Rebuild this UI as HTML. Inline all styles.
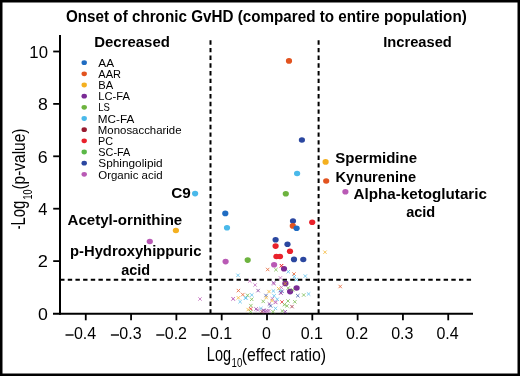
<!DOCTYPE html><html><head><meta charset="utf-8"><style>html,body{margin:0;padding:0;background:#fff;overflow:hidden}svg{display:block;will-change:transform}</style></head><body>
<svg width="520" height="376" viewBox="0 0 520 376" font-family='"Liberation Sans", sans-serif'>
<rect x="0" y="0" width="520" height="376" fill="#000"/>
<rect x="2.5" y="2.5" width="515" height="371" fill="#fff"/>
<text x="65.99" y="21.70" font-size="15.80" font-weight="bold" textLength="400.78" lengthAdjust="spacingAndGlyphs">Onset of chronic GvHD (compared to entire population)</text>
<text x="94.23" y="47.40" font-size="15.00" font-weight="bold" textLength="75.63" lengthAdjust="spacingAndGlyphs">Decreased</text>
<text x="383.25" y="47.40" font-size="15.00" font-weight="bold" textLength="68.60" lengthAdjust="spacingAndGlyphs">Increased</text>
<g stroke="#000" stroke-width="2" fill="none">
<line x1="210.5" y1="40.25" x2="210.5" y2="313" stroke-dasharray="4.4 3.285"/>
<line x1="318.6" y1="40.25" x2="318.6" y2="313" stroke-dasharray="4.4 3.285"/>
<line x1="60.1" y1="279.8" x2="471.1" y2="279.8" stroke-dasharray="4.4 3.271"/>
</g>
<g stroke="#000" stroke-width="2" fill="none">
<line x1="60" y1="35.1" x2="60" y2="314.7"/>
<line x1="53" y1="313.7" x2="473" y2="313.7" stroke-width="2"/>
<line x1="53.2" y1="51.50" x2="60" y2="51.50" stroke-width="1.8"/>
<line x1="53.2" y1="103.90" x2="60" y2="103.90" stroke-width="1.8"/>
<line x1="53.2" y1="156.30" x2="60" y2="156.30" stroke-width="1.8"/>
<line x1="53.2" y1="208.70" x2="60" y2="208.70" stroke-width="1.8"/>
<line x1="53.2" y1="261.10" x2="60" y2="261.10" stroke-width="1.8"/>
<line x1="85.76" y1="313.6" x2="85.76" y2="320.3" stroke-width="1.8"/>
<line x1="131.07" y1="313.6" x2="131.07" y2="320.3" stroke-width="1.8"/>
<line x1="176.38" y1="313.6" x2="176.38" y2="320.3" stroke-width="1.8"/>
<line x1="221.69" y1="313.6" x2="221.69" y2="320.3" stroke-width="1.8"/>
<line x1="267.00" y1="313.6" x2="267.00" y2="320.3" stroke-width="1.8"/>
<line x1="312.31" y1="313.6" x2="312.31" y2="320.3" stroke-width="1.8"/>
<line x1="357.62" y1="313.6" x2="357.62" y2="320.3" stroke-width="1.8"/>
<line x1="402.93" y1="313.6" x2="402.93" y2="320.3" stroke-width="1.8"/>
<line x1="448.24" y1="313.6" x2="448.24" y2="320.3" stroke-width="1.8"/>
</g>
<text x="29.35" y="57.70" font-size="17.20" textLength="18.58" lengthAdjust="spacingAndGlyphs">10</text>
<text x="37.91" y="110.10" font-size="17.20" textLength="9.82" lengthAdjust="spacingAndGlyphs">8</text>
<text x="37.81" y="162.50" font-size="17.20" textLength="9.93" lengthAdjust="spacingAndGlyphs">6</text>
<text x="38.37" y="214.90" font-size="17.20" textLength="9.14" lengthAdjust="spacingAndGlyphs">4</text>
<text x="37.79" y="267.30" font-size="17.20" textLength="10.15" lengthAdjust="spacingAndGlyphs">2</text>
<text x="37.99" y="319.70" font-size="17.20" textLength="9.85" lengthAdjust="spacingAndGlyphs">0</text>
<text x="73.96" y="339.10" font-size="17.20" textLength="22.24" lengthAdjust="spacingAndGlyphs">0.4</text>
<rect x="65.50" y="334.3" width="8.1" height="1.4" fill="#000"/>
<text x="119.35" y="339.10" font-size="17.20" textLength="22.24" lengthAdjust="spacingAndGlyphs">0.3</text>
<rect x="110.89" y="334.3" width="8.1" height="1.4" fill="#000"/>
<text x="164.74" y="339.10" font-size="17.20" textLength="22.24" lengthAdjust="spacingAndGlyphs">0.2</text>
<rect x="156.28" y="334.3" width="8.1" height="1.4" fill="#000"/>
<text x="210.01" y="339.10" font-size="17.20" textLength="22.24" lengthAdjust="spacingAndGlyphs">0.1</text>
<rect x="201.55" y="334.3" width="8.1" height="1.4" fill="#000"/>
<text x="261.92" y="339.10" font-size="17.20" textLength="8.90" lengthAdjust="spacingAndGlyphs">0</text>
<text x="300.63" y="339.10" font-size="17.20" textLength="22.24" lengthAdjust="spacingAndGlyphs">0.1</text>
<text x="345.98" y="339.10" font-size="17.20" textLength="22.24" lengthAdjust="spacingAndGlyphs">0.2</text>
<text x="391.21" y="339.10" font-size="17.20" textLength="22.24" lengthAdjust="spacingAndGlyphs">0.3</text>
<text x="436.44" y="339.10" font-size="17.20" textLength="22.24" lengthAdjust="spacingAndGlyphs">0.4</text>
<text x="206.84" y="360.50" font-size="19.30" textLength="24.15" lengthAdjust="spacingAndGlyphs">Log</text>
<text x="231.57" y="367.10" font-size="12.40" textLength="10.79" lengthAdjust="spacingAndGlyphs">10</text>
<text x="241.65" y="360.50" font-size="18.50" textLength="84.44" lengthAdjust="spacingAndGlyphs">(effect ratio)</text>
<g transform="translate(25.1,229.4) rotate(-90)">
<text x="0.20" y="0.00" font-size="19.30" textLength="3.67" lengthAdjust="spacingAndGlyphs">-</text>
<text x="3.91" y="0.00" font-size="19.30" textLength="24.92" lengthAdjust="spacingAndGlyphs">Log</text>
<text x="29.82" y="6.40" font-size="12.40" textLength="10.01" lengthAdjust="spacingAndGlyphs">10</text>
<text x="39.87" y="0.00" font-size="18.50" textLength="60.97" lengthAdjust="spacingAndGlyphs">(p-value)</text>
</g>
<ellipse cx="84.2" cy="62.70" rx="2.7" ry="2.4" fill="#1f6cc2"/>
<text x="98.30" y="66.60" font-size="10.60" textLength="15.75" lengthAdjust="spacingAndGlyphs">AA</text>
<ellipse cx="84.2" cy="73.86" rx="2.7" ry="2.4" fill="#e2531f"/>
<text x="98.30" y="77.80" font-size="10.60" textLength="22.71" lengthAdjust="spacingAndGlyphs">AAR</text>
<ellipse cx="84.2" cy="85.02" rx="2.7" ry="2.4" fill="#f4b020"/>
<text x="98.20" y="89.00" font-size="10.60" textLength="14.94" lengthAdjust="spacingAndGlyphs">BA</text>
<ellipse cx="84.2" cy="96.18" rx="2.7" ry="2.4" fill="#7a2b95"/>
<text x="98.21" y="100.20" font-size="10.60" textLength="31.64" lengthAdjust="spacingAndGlyphs">LC-FA</text>
<ellipse cx="84.2" cy="107.34" rx="2.7" ry="2.4" fill="#6db33f"/>
<text x="98.34" y="111.40" font-size="10.60" textLength="11.62" lengthAdjust="spacingAndGlyphs">LS</text>
<ellipse cx="84.2" cy="118.50" rx="2.7" ry="2.4" fill="#4ab9ea"/>
<text x="97.86" y="122.60" font-size="10.60" textLength="36.45" lengthAdjust="spacingAndGlyphs">MC-FA</text>
<ellipse cx="84.2" cy="129.66" rx="2.7" ry="2.4" fill="#981b30"/>
<text x="97.89" y="133.80" font-size="10.60" textLength="83.66" lengthAdjust="spacingAndGlyphs">Monosaccharide</text>
<ellipse cx="84.2" cy="140.82" rx="2.7" ry="2.4" fill="#e9212b"/>
<text x="97.94" y="145.00" font-size="10.60" textLength="14.99" lengthAdjust="spacingAndGlyphs">PC</text>
<ellipse cx="84.2" cy="151.98" rx="2.7" ry="2.4" fill="#5bb848"/>
<text x="98.31" y="156.20" font-size="10.60" textLength="31.99" lengthAdjust="spacingAndGlyphs">SC-FA</text>
<ellipse cx="84.2" cy="163.14" rx="2.7" ry="2.4" fill="#2b47a0"/>
<text x="98.27" y="167.40" font-size="10.60" textLength="64.39" lengthAdjust="spacingAndGlyphs">Sphingolipid</text>
<ellipse cx="84.2" cy="174.30" rx="2.7" ry="2.4" fill="#b95ab5"/>
<text x="98.28" y="178.60" font-size="10.60" textLength="64.35" lengthAdjust="spacingAndGlyphs">Organic acid</text>
<g stroke-width="0.85" fill="none" opacity="0.85">
<path d="M323.3 250.5l3.4 3.4M323.3 253.9l3.4 -3.4" stroke="#f4b020"/>
<path d="M338.5 284.8l3.4 3.4M338.5 288.2l3.4 -3.4" stroke="#e2531f"/>
<path d="M302.0 293.3l3.4 3.4M302.0 296.7l3.4 -3.4" stroke="#6db33f"/>
<path d="M306.9 292.3l3.4 3.4M306.9 295.7l3.4 -3.4" stroke="#4ab9ea"/>
<path d="M303.6 274.4l3.4 3.4M303.6 277.8l3.4 -3.4" stroke="#4ab9ea"/>
<path d="M198.3 297.3l3.4 3.4M198.3 300.7l3.4 -3.4" stroke="#b95ab5"/>
<path d="M231.4 297.3l3.4 3.4M231.4 300.7l3.4 -3.4" stroke="#b95ab5"/>
<path d="M236.3 273.6l3.4 3.4M236.3 277.0l3.4 -3.4" stroke="#4ab9ea"/>
<path d="M266.0 267.8l3.4 3.4M266.0 271.2l3.4 -3.4" stroke="#e2531f"/>
<path d="M248.1 279.3l3.4 3.4M248.1 282.7l3.4 -3.4" stroke="#b95ab5"/>
<path d="M274.2 268.0l3.4 3.4M274.2 271.4l3.4 -3.4" stroke="#6db33f"/>
<path d="M279.8 264.0l3.4 3.4M279.8 267.4l3.4 -3.4" stroke="#e9212b"/>
<path d="M286.6 270.0l3.4 3.4M286.6 273.4l3.4 -3.4" stroke="#4ab9ea"/>
<path d="M292.3 272.3l3.4 3.4M292.3 275.7l3.4 -3.4" stroke="#e2531f"/>
<path d="M292.6 275.0l3.4 3.4M292.6 278.4l3.4 -3.4" stroke="#4ab9ea"/>
<path d="M294.7 277.8l3.4 3.4M294.7 281.2l3.4 -3.4" stroke="#4ab9ea"/>
<path d="M278.7 276.2l3.4 3.4M278.7 279.6l3.4 -3.4" stroke="#b95ab5"/>
<path d="M271.9 281.1l3.4 3.4M271.9 284.5l3.4 -3.4" stroke="#7a2b95"/>
<path d="M253.4 283.3l3.4 3.4M253.4 286.7l3.4 -3.4" stroke="#b95ab5"/>
<path d="M256.4 288.9l3.4 3.4M256.4 292.3l3.4 -3.4" stroke="#7a2b95"/>
<path d="M236.7 288.9l3.4 3.4M236.7 292.3l3.4 -3.4" stroke="#e2531f"/>
<path d="M241.1 292.9l3.4 3.4M241.1 296.3l3.4 -3.4" stroke="#e2531f"/>
<path d="M231.5 297.0l3.4 3.4M231.5 300.4l3.4 -3.4" stroke="#b95ab5"/>
<path d="M236.7 296.1l3.4 3.4M236.7 299.5l3.4 -3.4" stroke="#f4b020"/>
<path d="M243.8 296.4l3.4 3.4M243.8 299.8l3.4 -3.4" stroke="#4ab9ea"/>
<path d="M238.4 300.0l3.4 3.4M238.4 303.4l3.4 -3.4" stroke="#4ab9ea"/>
<path d="M245.9 293.6l3.4 3.4M245.9 297.0l3.4 -3.4" stroke="#6db33f"/>
<path d="M250.1 293.3l3.4 3.4M250.1 296.7l3.4 -3.4" stroke="#4ab9ea"/>
<path d="M250.0 297.6l3.4 3.4M250.0 301.0l3.4 -3.4" stroke="#6db33f"/>
<path d="M244.3 296.2l3.4 3.4M244.3 299.6l3.4 -3.4" stroke="#4ab9ea"/>
<path d="M249.2 303.9l3.4 3.4M249.2 307.3l3.4 -3.4" stroke="#6db33f"/>
<path d="M267.3 289.9l3.4 3.4M267.3 293.3l3.4 -3.4" stroke="#f4b020"/>
<path d="M264.3 293.8l3.4 3.4M264.3 297.2l3.4 -3.4" stroke="#2b47a0"/>
<path d="M264.5 295.9l3.4 3.4M264.5 299.3l3.4 -3.4" stroke="#f4b020"/>
<path d="M261.5 299.7l3.4 3.4M261.5 303.1l3.4 -3.4" stroke="#6db33f"/>
<path d="M267.7 302.3l3.4 3.4M267.7 305.7l3.4 -3.4" stroke="#7a2b95"/>
<path d="M268.9 304.2l3.4 3.4M268.9 307.6l3.4 -3.4" stroke="#2b47a0"/>
<path d="M271.7 289.3l3.4 3.4M271.7 292.7l3.4 -3.4" stroke="#4ab9ea"/>
<path d="M278.2 289.1l3.4 3.4M278.2 292.5l3.4 -3.4" stroke="#4ab9ea"/>
<path d="M280.3 289.6l3.4 3.4M280.3 293.0l3.4 -3.4" stroke="#2b47a0"/>
<path d="M279.3 291.5l3.4 3.4M279.3 294.9l3.4 -3.4" stroke="#b95ab5"/>
<path d="M272.4 294.1l3.4 3.4M272.4 297.5l3.4 -3.4" stroke="#4ab9ea"/>
<path d="M270.6 297.0l3.4 3.4M270.6 300.4l3.4 -3.4" stroke="#b95ab5"/>
<path d="M270.3 298.9l3.4 3.4M270.3 302.3l3.4 -3.4" stroke="#f4b020"/>
<path d="M274.0 300.8l3.4 3.4M274.0 304.2l3.4 -3.4" stroke="#b95ab5"/>
<path d="M272.1 282.1l3.4 3.4M272.1 285.5l3.4 -3.4" stroke="#b95ab5"/>
<path d="M279.7 285.7l3.4 3.4M279.7 289.1l3.4 -3.4" stroke="#b95ab5"/>
<path d="M276.9 286.9l3.4 3.4M276.9 290.3l3.4 -3.4" stroke="#f4b020"/>
<path d="M286.5 286.3l3.4 3.4M286.5 289.7l3.4 -3.4" stroke="#6db33f"/>
<path d="M279.1 291.1l3.4 3.4M279.1 294.5l3.4 -3.4" stroke="#7a2b95"/>
<path d="M296.1 294.0l3.4 3.4M296.1 297.4l3.4 -3.4" stroke="#2b47a0"/>
<path d="M275.5 297.6l3.4 3.4M275.5 301.0l3.4 -3.4" stroke="#4ab9ea"/>
<path d="M273.7 300.4l3.4 3.4M273.7 303.8l3.4 -3.4" stroke="#b95ab5"/>
<path d="M280.3 300.3l3.4 3.4M280.3 303.7l3.4 -3.4" stroke="#e9212b"/>
<path d="M286.3 299.3l3.4 3.4M286.3 302.7l3.4 -3.4" stroke="#6db33f"/>
<path d="M293.1 300.1l3.4 3.4M293.1 303.5l3.4 -3.4" stroke="#6db33f"/>
<path d="M282.7 303.0l3.4 3.4M282.7 306.4l3.4 -3.4" stroke="#6db33f"/>
<path d="M285.3 304.2l3.4 3.4M285.3 307.6l3.4 -3.4" stroke="#6db33f"/>
<path d="M290.3 304.9l3.4 3.4M290.3 308.3l3.4 -3.4" stroke="#981b30"/>
<path d="M273.8 306.7l3.4 3.4M273.8 310.1l3.4 -3.4" stroke="#4ab9ea"/>
<path d="M280.6 309.3l3.4 3.4M280.6 312.7l3.4 -3.4" stroke="#6db33f"/>
<path d="M283.5 310.0l3.4 3.4M283.5 313.4l3.4 -3.4" stroke="#7a2b95"/>
<path d="M271.3 310.0l3.4 3.4M271.3 313.4l3.4 -3.4" stroke="#6db33f"/>
<path d="M249.1 307.1l3.4 3.4M249.1 310.5l3.4 -3.4" stroke="#e9212b"/>
<path d="M246.5 307.9l3.4 3.4M246.5 311.3l3.4 -3.4" stroke="#f4b020"/>
<path d="M254.4 307.3l3.4 3.4M254.4 310.7l3.4 -3.4" stroke="#7a2b95"/>
<path d="M256.0 308.2l3.4 3.4M256.0 311.6l3.4 -3.4" stroke="#b95ab5"/>
<path d="M248.9 310.0l3.4 3.4M248.9 313.4l3.4 -3.4" stroke="#6db33f"/>
<path d="M259.2 306.8l3.4 3.4M259.2 310.2l3.4 -3.4" stroke="#4ab9ea"/>
<path d="M262.3 308.9l3.4 3.4M262.3 312.3l3.4 -3.4" stroke="#b95ab5"/>
<path d="M264.8 309.1l3.4 3.4M264.8 312.5l3.4 -3.4" stroke="#7a2b95"/>
<path d="M267.3 308.9l3.4 3.4M267.3 312.3l3.4 -3.4" stroke="#b95ab5"/>
<path d="M260.3 309.8l3.4 3.4M260.3 313.2l3.4 -3.4" stroke="#981b30"/>
<path d="M263.3 309.9l3.4 3.4M263.3 313.3l3.4 -3.4" stroke="#b95ab5"/>
<path d="M265.8 309.5l3.4 3.4M265.8 312.9l3.4 -3.4" stroke="#b95ab5"/>
<path d="M261.8 308.5l3.4 3.4M261.8 311.9l3.4 -3.4" stroke="#7a2b95"/>
</g>
<ellipse cx="289.0" cy="60.9" rx="3.1" ry="2.8" fill="#e2531f"/>
<ellipse cx="301.9" cy="140.0" rx="3.1" ry="2.8" fill="#2b47a0"/>
<ellipse cx="297.1" cy="173.5" rx="3.1" ry="2.8" fill="#4ab9ea"/>
<ellipse cx="325.6" cy="161.9" rx="3.1" ry="2.8" fill="#f4b020"/>
<ellipse cx="326.2" cy="181.0" rx="3.1" ry="2.8" fill="#e2531f"/>
<ellipse cx="345.4" cy="191.7" rx="3.1" ry="2.8" fill="#b95ab5"/>
<ellipse cx="285.8" cy="193.8" rx="3.1" ry="2.8" fill="#6db33f"/>
<ellipse cx="195.1" cy="193.6" rx="3.1" ry="2.8" fill="#4ab9ea"/>
<ellipse cx="175.9" cy="230.5" rx="3.1" ry="2.8" fill="#f4b020"/>
<ellipse cx="149.8" cy="241.5" rx="3.1" ry="2.8" fill="#b95ab5"/>
<ellipse cx="225.3" cy="213.4" rx="3.1" ry="2.8" fill="#1f6cc2"/>
<ellipse cx="227.0" cy="227.8" rx="3.1" ry="2.8" fill="#4ab9ea"/>
<ellipse cx="293.0" cy="221.1" rx="3.1" ry="2.8" fill="#2b47a0"/>
<ellipse cx="292.8" cy="225.9" rx="3.1" ry="2.8" fill="#e2531f"/>
<ellipse cx="296.6" cy="228.2" rx="3.1" ry="2.8" fill="#1f6cc2"/>
<ellipse cx="312.2" cy="222.2" rx="3.1" ry="2.8" fill="#e9212b"/>
<ellipse cx="275.6" cy="239.7" rx="3.1" ry="2.8" fill="#2b47a0"/>
<ellipse cx="275.6" cy="246.1" rx="3.1" ry="2.8" fill="#e9212b"/>
<ellipse cx="287.5" cy="244.2" rx="3.1" ry="2.8" fill="#2b47a0"/>
<ellipse cx="290.0" cy="251.2" rx="3.1" ry="2.8" fill="#e9212b"/>
<ellipse cx="276.4" cy="256.5" rx="3.1" ry="2.8" fill="#e9212b"/>
<ellipse cx="280.0" cy="256.5" rx="3.1" ry="2.8" fill="#e9212b"/>
<ellipse cx="294.0" cy="259.4" rx="3.1" ry="2.8" fill="#2b47a0"/>
<ellipse cx="303.3" cy="259.5" rx="3.1" ry="2.8" fill="#2b47a0"/>
<ellipse cx="225.6" cy="261.6" rx="3.1" ry="2.8" fill="#b95ab5"/>
<ellipse cx="247.7" cy="260.1" rx="3.1" ry="2.8" fill="#6db33f"/>
<ellipse cx="274.1" cy="264.8" rx="3.1" ry="2.8" fill="#b95ab5"/>
<ellipse cx="284.0" cy="268.7" rx="3.1" ry="2.8" fill="#7a2b95"/>
<ellipse cx="285.4" cy="283.4" rx="3.1" ry="2.8" fill="#7a2b95"/>
<ellipse cx="296.6" cy="288.0" rx="3.1" ry="2.8" fill="#7a2b95"/>
<ellipse cx="290.1" cy="291.6" rx="3.1" ry="2.8" fill="#7a2b95"/>
<g stroke-width="0.85" fill="none" opacity="0.85">
<path d="M283.5 281.9l3.4 3.4M283.5 285.3l3.4 -3.4" stroke="#f4b020"/>
<path d="M279.8 264.0l3.4 3.4M279.8 267.4l3.4 -3.4" stroke="#e9212b"/>
<path d="M290.9 288.1l3.4 3.4M290.9 291.5l3.4 -3.4" stroke="#6db33f"/>
</g>
<text x="171.29" y="198.30" font-size="15.00" font-weight="bold" textLength="19.60" lengthAdjust="spacingAndGlyphs">C9</text>
<text x="67.62" y="224.80" font-size="15.00" font-weight="bold" textLength="114.63" lengthAdjust="spacingAndGlyphs">Acetyl-ornithine</text>
<text x="70.04" y="256.20" font-size="15.00" font-weight="bold" textLength="131.40" lengthAdjust="spacingAndGlyphs">p-Hydroxyhippuric</text>
<text x="121.27" y="274.50" font-size="15.00" font-weight="bold" textLength="28.89" lengthAdjust="spacingAndGlyphs">acid</text>
<text x="335.35" y="162.60" font-size="15.00" font-weight="bold" textLength="81.69" lengthAdjust="spacingAndGlyphs">Spermidine</text>
<text x="335.55" y="182.30" font-size="15.00" font-weight="bold" textLength="80.48" lengthAdjust="spacingAndGlyphs">Kynurenine</text>
<text x="353.62" y="198.60" font-size="15.00" font-weight="bold" textLength="133.32" lengthAdjust="spacingAndGlyphs">Alpha-ketoglutaric</text>
<text x="406.16" y="216.50" font-size="15.00" font-weight="bold" textLength="29.10" lengthAdjust="spacingAndGlyphs">acid</text>
</svg></body></html>
